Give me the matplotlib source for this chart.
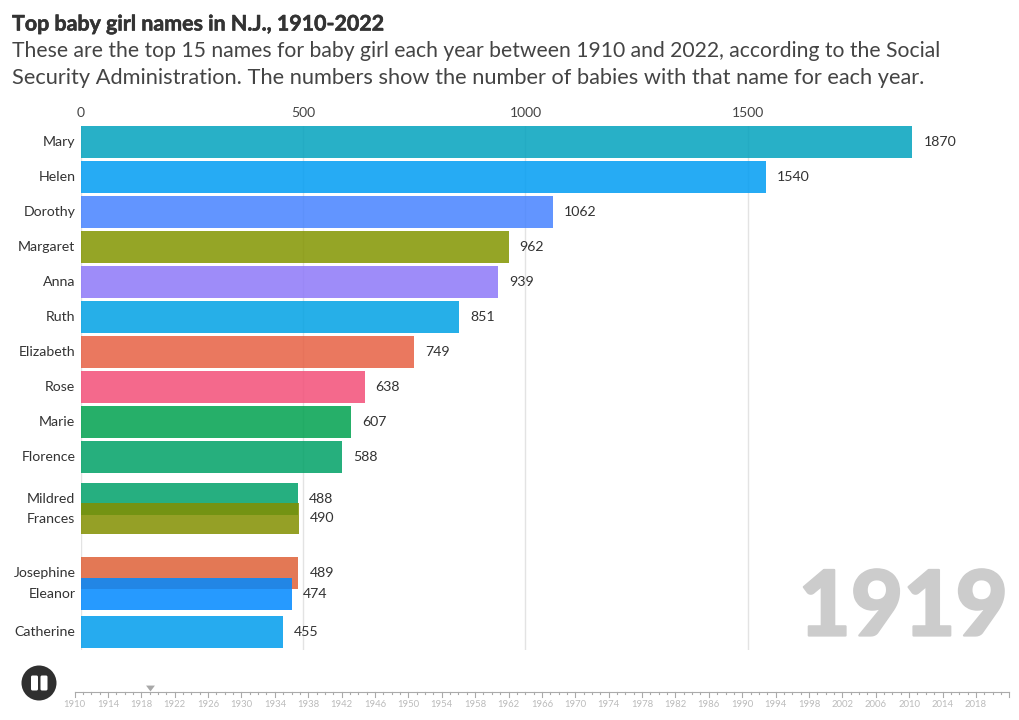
import matplotlib
matplotlib.use("Agg")
import matplotlib.pyplot as plt
import matplotlib.patheffects as pe
from matplotlib.patches import Circle, FancyBboxPatch
from matplotlib.transforms import ScaledTranslation

names = ["Mary", "Helen", "Dorothy", "Margaret", "Anna", "Ruth", "Elizabeth", "Rose",
         "Marie", "Florence", "Mildred", "Frances", "Josephine", "Eleanor", "Catherine"]
counts = [1870, 1540, 1062, 962, 939, 851, 749, 638, 607, 588, 488, 490, 489, 474, 455]
ranks = [0, 1, 2, 3, 4, 5, 6, 7, 8, 9, 10.21, 10.76, 12.32, 12.92, 14]
colors = ["#02A2BE", "#009DF3", "#4683FF", "#839500", "#8D78F9", "#00A1E4", "#E76043", "#F34F78",
          "#00A14F", "#00A166", "#00A16A", "#838F00", "#DF6037", "#0089FF", "#009DED"]
x_ticks = [0, 500, 1000, 1500]
timeline_start, timeline_end = 1910, 2022
current_year = 1919
title = "Top baby girl names in N.J., 1910-2022"
subtitle = ("These are the top 15 names for baby girl each year between 1910 and 2022, according to the Social\n"
            "Security Administration. The numbers show the number of babies with that name for each year.")

W, H = 1020, 720
FONT = "Lato"
plt.rcParams["font.family"] = [FONT, "DejaVu Sans"]
fig = plt.figure(figsize=(W / 100, H / 100), dpi=100, facecolor="white")


def axes_px(x0, y0, x1, y1):
    return fig.add_axes([x0 / W, 1 - y1 / H, (x1 - x0) / W, (y1 - y0) / H])


# ---- main bars
ax = axes_px(81, 125.5, 1010, 650)
ax.set_xlim(0, 929 / 0.4445)
ax.set_ylim(14.52, -0.467)
ax.patch.set_alpha(0)
for s in ax.spines.values():
    s.set_visible(False)
ax.set_axisbelow(True)
ax.xaxis.tick_top()
ax.set_xticks(x_ticks)
ax.set_xticklabels([str(v) for v in x_ticks], fontsize=10, color="#444444")
ax.tick_params(axis="x", length=0, pad=5)
ax.grid(axis="x", color="#e3e3e3", lw=1)
ax.set_yticks(ranks)
ax.set_yticklabels(names, fontsize=10.2, color="#333333")
ax.tick_params(axis="y", length=0, pad=4)
shift_up = ScaledTranslation(0, 0.8 / 100, fig.dpi_scale_trans)
for lab in ax.get_yticklabels():
    lab.set_transform(lab.get_transform() + shift_up)
ax.barh(ranks, counts, height=0.9, color=colors, alpha=0.85, linewidth=0, zorder=2)
for r, v in zip(ranks, counts):
    ax.annotate(str(v), (v, r), xytext=(8, 0), textcoords="offset points",
                va="center", ha="left", fontsize=10.2, color="#333333", zorder=3)

# ---- headings
fig.text(12 / W, 1 - 24.5 / H, title, fontsize=15.4, fontweight="bold", color="#333333", va="center", ha="left",
         path_effects=[pe.withStroke(linewidth=0.4, foreground="#333333")])
fig.text(12 / W, 1 - 51 / H, subtitle.split("\n")[0], fontsize=15.25, color="#444444", va="center", ha="left")
fig.text(12 / W, 1 - 78 / H, subtitle.split("\n")[1], fontsize=15.68, color="#444444", va="center", ha="left")

# ---- year
fig.text(1008 / W, 1 - 635.5 / H, str(current_year), fontsize=65, fontweight="black",
         family=["Lato Black", "Lato"], color="#cccccc", va="baseline", ha="right",
         path_effects=[pe.withStroke(linewidth=1.6, foreground="#cccccc")])

# ---- timeline
tl = axes_px(74.5, 692, 1009.3, 697)
tl.set_xlim(timeline_start, timeline_end)
tl.set_ylim(1, 0)
tl.patch.set_alpha(0)
for k, s in tl.spines.items():
    s.set_visible(k == "top")
    s.set_color("#aaaaaa")
    s.set_linewidth(0.8)
tl.yaxis.set_visible(False)
major = list(range(timeline_start, timeline_end, 4))
tl.set_xticks(major)
tl.set_xticklabels([str(y) for y in major], fontsize=6.8, color="#bbbbbb")
tl.tick_params(axis="x", which="major", length=0, pad=2.5)
for y in range(timeline_start, timeline_end + 1):
    is_major = (y - timeline_start) % 4 == 0 or y == timeline_end
    tl.plot([y, y], [0, 1 if is_major else 0.35], color="#aaaaaa", lw=0.8, clip_on=False, zorder=1)
tl.plot([current_year], [-0.72], marker=[(-1, 0.66), (1, 0.66), (0, -0.66)], ms=6.4,
        color="#a8a8a8", mew=0, clip_on=False)

# ---- pause button
ov = fig.add_axes([0, 0, 1, 1])
ov.set_xlim(0, W)
ov.set_ylim(H, 0)
ov.axis("off")
ov.patch.set_alpha(0)
ov.add_patch(Circle((39, 683), 17.5, color="#2f2f2f", lw=0))
for bx in (31, 40.5):
    ov.add_patch(FancyBboxPatch((bx, 675.5), 7, 15, boxstyle="round,pad=0,rounding_size=1.5", fc="white", lw=0))

fig.savefig("out.png", dpi=100)
